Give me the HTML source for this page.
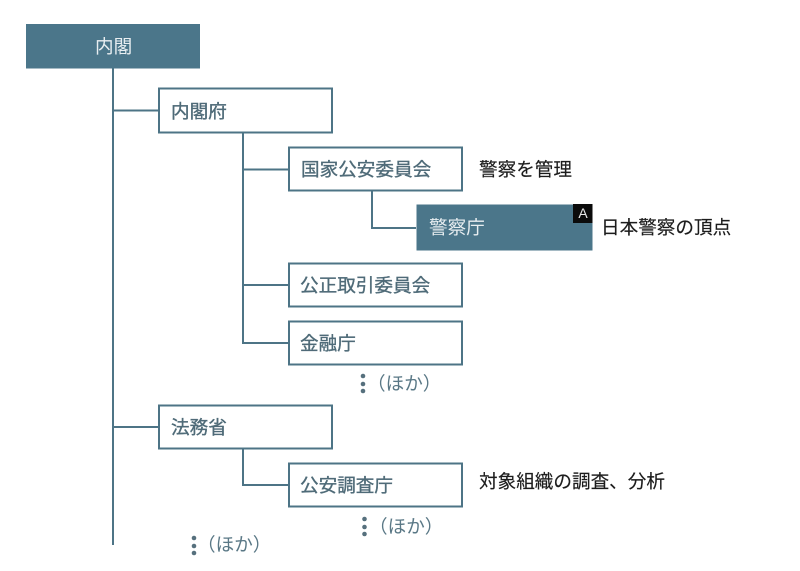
<!DOCTYPE html>
<html lang="ja">
<head>
<meta charset="utf-8">
<style>
html,body{margin:0;padding:0;background:#fff}
#p{position:relative;width:800px;height:571px;overflow:hidden;background:#fff;font-family:"Liberation Sans","Noto Sans CJK JP",sans-serif}
svg{position:absolute;left:0;top:0}
.t{position:absolute;white-space:nowrap;line-height:24px;font-size:18.6px;color:#4f6b78;-webkit-text-stroke:.35px currentColor}
.k{color:#1c1c1c;-webkit-text-stroke:.15px currentColor}
.w{color:#e8eef1;-webkit-text-stroke:0}
.h{color:#5a7886;-webkit-text-stroke:0}
</style>
</head>
<body>
<div id="p">
<svg width="800" height="571" viewBox="0 0 800 571">
<g fill="none" stroke="#4d7486" stroke-width="2">
<path d="M113 68V545"/>
<path d="M113 110.500H158"/>
<path d="M113 427H158"/>
<path d="M243 133V343H288"/>
<path d="M243 169.500H288"/>
<path d="M243 285H288"/>
<path d="M372 191V228H416"/>
<path d="M243 449V485H288"/>
<rect x="159" y="88.500" width="173" height="44" fill="#fff"/>
<rect x="289" y="147.500" width="173" height="43" fill="#fff"/>
<rect x="289" y="263.500" width="173" height="43" fill="#fff"/>
<rect x="289" y="321.500" width="173" height="43" fill="#fff"/>
<rect x="159" y="405.500" width="173" height="43" fill="#fff"/>
<rect x="289" y="463.500" width="173" height="43" fill="#fff"/>
</g>
<rect x="26" y="24" width="174" height="44.500" fill="#4b768a"/>
<rect x="416.500" y="204.500" width="176" height="46" fill="#4b768a"/>
<rect x="573" y="204" width="19.500" height="19" fill="#0b0b0b"/>
<g fill="#56707d">
<circle cx="363" cy="376" r="2.300"/><circle cx="363" cy="384" r="2.300"/><circle cx="363" cy="391" r="2.300"/>
<circle cx="364.500" cy="519" r="2.300"/><circle cx="364.500" cy="527" r="2.300"/><circle cx="364.500" cy="534" r="2.300"/>
<circle cx="194" cy="538" r="2.300"/><circle cx="194" cy="546" r="2.300"/><circle cx="194" cy="553" r="2.300"/>
</g>
</svg>
<div class="t w" style="left:95px;top:35px">内閣</div>
<div class="t" style="left:171px;top:100px">内閣府</div>
<div class="t" style="left:301px;top:158px">国家公安委員会</div>
<div class="t w" style="left:429px;top:216px">警察庁</div>
<div class="t" style="left:300px;top:274px">公正取引委員会</div>
<div class="t" style="left:300px;top:332px">金融庁</div>
<div class="t" style="left:171px;top:416px">法務省</div>
<div class="t" style="left:300px;top:474px">公安調査庁</div>
<div class="t k" style="left:479px;top:158px">警察を管理</div>
<div class="t k" style="left:601px;top:216px">日本警察の頂点</div>
<div class="t k" style="left:479px;top:470px">対象組織の調査、分析</div>
<div class="t h" style="left:367px;top:372px">（ほか）</div>
<div class="t h" style="left:369px;top:515px">（ほか）</div>
<div class="t h" style="left:197px;top:533px">（ほか）</div>
<div class="t" style="left:573px;top:204px;width:20px;text-align:center;font-size:14px;line-height:18px;color:#e8e8e8;-webkit-text-stroke:0">A</div>
</div>
</body>
</html>
